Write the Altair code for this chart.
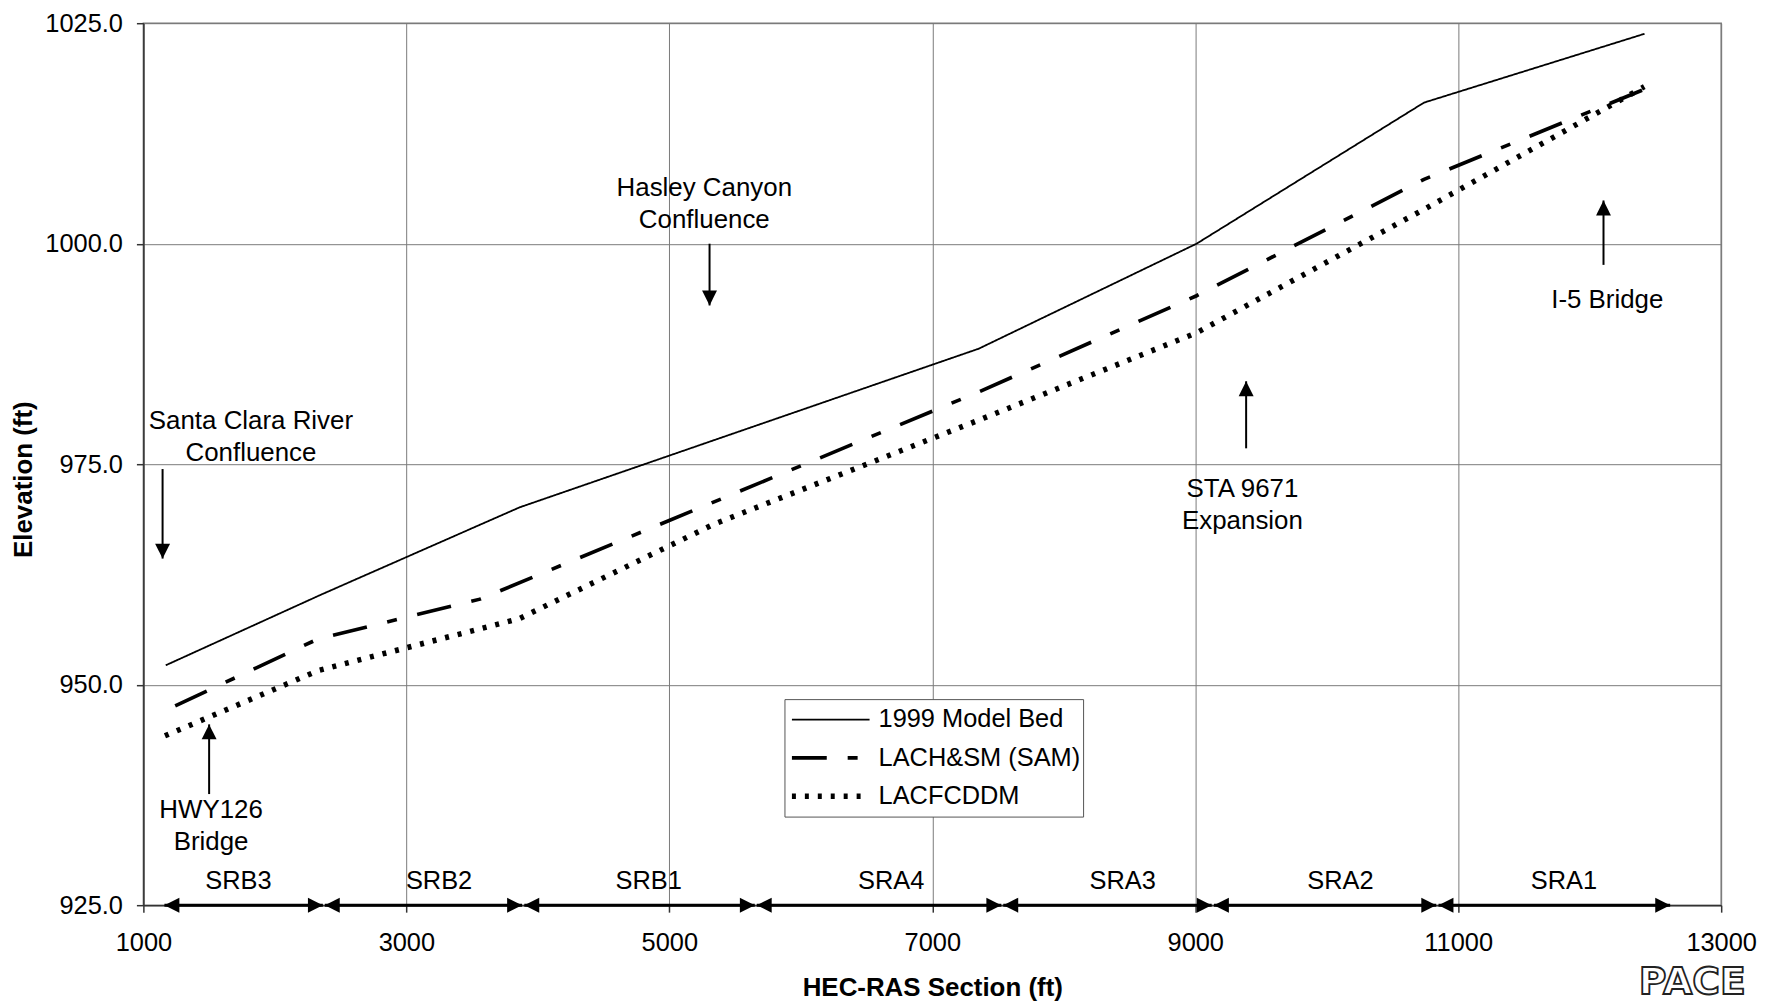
import altair as alt
import pandas as pd

FONT = "Liberation Sans"
FS = 25.5

# ---------------- data ----------------
series_names = ["1999 Model Bed", "LACH&SM (SAM)", "LACFCDDM"]

bed_x = [1170, 2350, 3860, 7354, 9010, 10740, 12417]
bed_y = [952.2, 960.2, 970.1, 988.1, 1000.0, 1016.0, 1023.8]

sam_x = [1242, 2330, 3560, 7354, 9010, 10740, 12415]
sam_y = [947.6, 955.2, 959.7, 983.2, 994.1, 1007.3, 1017.5]

ddm_x = [1164, 2330, 3860, 5340, 7354, 9010, 10740, 12415]
ddm_y = [944.2, 951.6, 957.5, 968.2, 980.0, 989.9, 1003.9, 1017.8]

x_ticks = [1000, 3000, 5000, 7000, 9000, 11000, 13000]
y_ticks = [925, 950, 975, 1000, 1025]

# reach segments along the bottom
seg_names = ["SRB3", "SRB2", "SRB1", "SRA4", "SRA3", "SRA2", "SRA1"]
seg_start = [1160, 2380, 3897, 5665, 7540, 9142, 10850]
seg_end = [2365, 3880, 5650, 7525, 9125, 10833, 12612]
seg_label_x = [1723, 3249, 4843, 6688, 8448, 10104, 11804]
seg_y = 925.0
seg_label_y = 927.7

# annotations (y = centre of the first text line)
ann_text = ["Santa Clara River\nConfluence", "HWY126\nBridge",
            "Hasley Canyon\nConfluence", "STA 9671\nExpansion", "I-5 Bridge"]
ann_x = [1818, 1515, 5266, 9359, 12134]
ann_y = [979.86, 935.77, 1006.27, 972.21, 993.6]

arrow_x = [1146, 1500, 5306, 9387, 12105]
arrow_tail = [974.45, 937.6, 1000.0, 976.8, 997.6]
arrow_tip = [964.3, 945.5, 993.0, 984.4, 1004.9]
arrow_dir = ["down", "up", "down", "up", "up"]

# ---------------- tables ----------------
rows = []
for name, xs, ys in zip(series_names, [bed_x, sam_x, ddm_x], [bed_y, sam_y, ddm_y]):
    for xv, yv in zip(xs, ys):
        rows.append({"x": xv, "y": yv, "series": name})
df_lines = pd.DataFrame(rows)

df_seg = pd.DataFrame({"name": seg_names, "x": seg_start, "x2": seg_end,
                       "lx": seg_label_x})
df_seg["y"] = seg_y
df_seg["ly"] = seg_label_y

df_ann = pd.DataFrame({"text": ann_text, "x": ann_x, "y": ann_y})
df_arrow = pd.DataFrame({"x": arrow_x, "y": arrow_tail, "y2": arrow_tip, "dir": arrow_dir})

# ---------------- scales / axes ----------------
x_scale = alt.Scale(domain=[1000, 13000], nice=False, zero=False)
y_scale = alt.Scale(domain=[925, 1025], nice=False, zero=False)

x_axis = alt.Axis(values=x_ticks, format="d", title="HEC-RAS Section (ft)",
                  grid=True, gridColor="#7a7a7a", gridWidth=1,
                  domainColor="#333333", domainWidth=1.5,
                  tickColor="#333333", tickSize=7, tickWidth=1.5,
                  labelFont=FONT, labelFontSize=FS, labelColor="black",
                  labelPadding=19, labelFlush=False, labelOverlap=False,
                  titleFont=FONT, titleFontSize=26, titleFontWeight="bold",
                  titleColor="black", titleY=83, titleBaseline="middle")

y_axis = alt.Axis(values=y_ticks, format=".1f", title="Elevation (ft)",
                  grid=True, gridColor="#7a7a7a", gridWidth=1,
                  domainColor="#333333", domainWidth=1.5,
                  tickColor="#333333", tickSize=7, tickWidth=1.5,
                  labelFont=FONT, labelFontSize=FS, labelColor="black",
                  labelPadding=14, labelFlush=False, labelOverlap=False,
                  titleFont=FONT, titleFontSize=26, titleFontWeight="bold",
                  titleColor="black", titleAngle=270, titleX=-120, titleY=458,
                  titleAlign="center", titleBaseline="middle")


def X(field):
    return alt.X(field, scale=x_scale, axis=x_axis)


def Y(field):
    return alt.Y(field, scale=y_scale, axis=y_axis)


legend = alt.Legend(orient="none", legendX=644, legendY=679,
                    padding=2, clipHeight=37, rowPadding=1.5,
                    symbolType="stroke", symbolSize=6084, symbolOffset=2.5,
                    symbolStrokeColor="black", labelOffset=6,
                    labelFont=FONT, labelFontSize=FS, labelColor="black",
                    labelLimit=400,
                    fillColor="white", strokeColor="#555555")

lines = alt.Chart(df_lines).mark_line(color="black").encode(
    x=X("x:Q"),
    y=Y("y:Q"),
    strokeDash=alt.StrokeDash("series:N", title=None, legend=legend,
                              scale=alt.Scale(domain=series_names,
                                              range=[[1, 0], [35, 21, 10, 21], [4, 9]])),
    strokeWidth=alt.StrokeWidth("series:N", title=None, legend=legend,
                                scale=alt.Scale(domain=series_names, range=[1.8, 5.5, 1.2])),
)

# segment double arrows
seg_lines = alt.Chart(df_seg).mark_rule(color="black", strokeWidth=3).encode(
    x=X("x:Q"), x2="x2:Q", y=Y("y:Q"),
)
right_heads = alt.Chart(df_seg).mark_point(
    shape="M0,0L-1,-0.5L-1,0.5Z", filled=True, size=900, color="black",
    opacity=1, strokeWidth=0).encode(x=X("x2:Q"), y=Y("y:Q"))
left_heads = alt.Chart(df_seg).mark_point(
    shape="M0,0L1,-0.5L1,0.5Z", filled=True, size=900, color="black",
    opacity=1, strokeWidth=0).encode(x=X("x:Q"), y=Y("y:Q"))
seg_text = alt.Chart(df_seg).mark_text(
    font=FONT, fontSize=FS, color="black", align="center", baseline="middle").encode(
    x=X("lx:Q"), y=Y("ly:Q"), text="name:N",
)

# annotation arrows
shafts = alt.Chart(df_arrow).mark_rule(color="black", strokeWidth=2).encode(
    x=X("x:Q"), y=Y("y:Q"), y2="y2:Q",
)
down_heads = alt.Chart(df_arrow).transform_filter(alt.datum.dir == "down").mark_point(
    shape="M0,0L-0.5,-1L0.5,-1Z", filled=True, size=900, color="black",
    opacity=1, strokeWidth=0).encode(x=X("x:Q"), y=Y("y2:Q"))
up_heads = alt.Chart(df_arrow).transform_filter(alt.datum.dir == "up").mark_point(
    shape="M0,0L-0.5,1L0.5,1Z", filled=True, size=900, color="black",
    opacity=1, strokeWidth=0).encode(x=X("x:Q"), y=Y("y2:Q"))
ann = alt.Chart(df_ann).mark_text(
    font=FONT, fontSize=26, color="black", align="center", baseline="middle",
    lineBreak="\n", lineHeight=32).encode(
    x=X("x:Q"), y=Y("y:Q"), text="text:N",
)

logo = alt.Chart(pd.DataFrame({"t": ["PACE"]})).mark_text(
    font="DejaVu Sans", fontSize=38, fontWeight="bold", fill="white", stroke="#222222",
    strokeWidth=1.8, align="center", baseline="middle").encode(
    x=alt.value(1556), y=alt.value(964), text="t:N")

chart = alt.layer(
    lines, seg_lines, right_heads, left_heads, seg_text,
    shafts, down_heads, up_heads, ann, logo
).properties(
    width=1585, height=886,
    autosize=alt.AutoSizeParams(type="none"),
    padding={"left": 136, "top": 13, "right": 40, "bottom": 100},
    background="white",
).configure_view(stroke="#7a7a7a", strokeWidth=1.5)

chart.save("out.html", embed_options={"renderer": "svg", "actions": False})
